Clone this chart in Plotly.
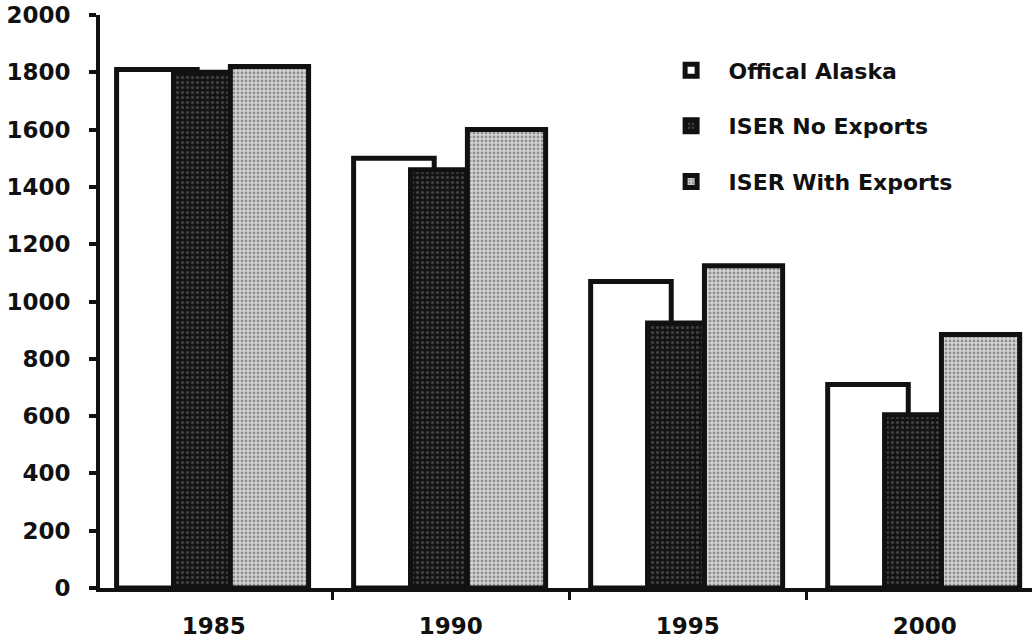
import plotly.graph_objects as go

years = ["1985", "1990", "1995", "2000"]
official_alaska = [1810, 1500, 1070, 710]
iser_no_exports = [1800, 1460, 925, 605]
iser_with_exports = [1820, 1600, 1125, 885]
y_ticks = [0, 200, 400, 600, 800, 1000, 1200, 1400, 1600, 1800, 2000]

FONT = "DejaVu Sans, Liberation Sans, Arial, sans-serif"

fig = go.Figure()

fig.add_trace(go.Bar(
    x=years, y=official_alaska, name="Offical Alaska",
    offset=-0.41, width=0.34, legendgroup="a",
    marker=dict(color="white", line=dict(color="#111", width=5)),
))
fig.add_trace(go.Bar(
    x=years, y=iser_no_exports, name="ISER No Exports",
    offset=-0.17, width=0.245, legendgroup="b",
    marker=dict(color="#151515", line=dict(color="#111", width=5),
                pattern=dict(shape=".", bgcolor="#141414", fgcolor="#707070",
                             size=5, solidity=0.3)),
))
fig.add_trace(go.Bar(
    x=years, y=iser_with_exports, name="ISER With Exports",
    offset=0.07, width=0.33, legendgroup="c",
    marker=dict(color="#c0c0c0", line=dict(color="#111", width=5),
                pattern=dict(shape=".", bgcolor="#d4d4d4", fgcolor="#4a4a4a",
                             size=4, solidity=0.4)),
))

fig.update_layout(
    width=1032, height=640,
    margin=dict(l=100, r=0, t=15, b=52),
    paper_bgcolor="white", plot_bgcolor="white",
    barmode="overlay",
    font=dict(family=FONT, size=22, color="#111"),
    showlegend=True,
    legend=dict(
        x=0.594, y=0.94, xanchor="left", yanchor="top",
        bgcolor="rgba(0,0,0,0)", tracegroupgap=24, traceorder="grouped",
        itemwidth=65,
        font=dict(family=FONT, size=22, color="#111", weight="bold"),
    ),
    xaxis=dict(
        type="category", range=[-0.48, 3.452],
        showline=True, linecolor="#111", linewidth=4,
        ticks="outside", tickson="boundaries", ticklen=8, tickwidth=3,
        tickcolor="#111", showgrid=False, zeroline=False,
        ticklabelstandoff=14,
        tickfont=dict(family=FONT, size=23, color="#111", weight="bold"),
    ),
    yaxis=dict(
        range=[0, 2000], tickvals=y_ticks,
        showline=True, linecolor="#111", linewidth=4,
        ticks="outside", ticklen=7, tickwidth=4, tickcolor="#111",
        showgrid=False, zeroline=False,
        ticklabelstandoff=14, ticklabeloverflow="allow",
        tickfont=dict(family=FONT, size=23, color="#111", weight="bold"),
    ),
)

fig.write_html(
    "out.html",
    config={"displayModeBar": False},
    post_script="document.body.style.margin='0';document.body.style.overflow='hidden';",
)
